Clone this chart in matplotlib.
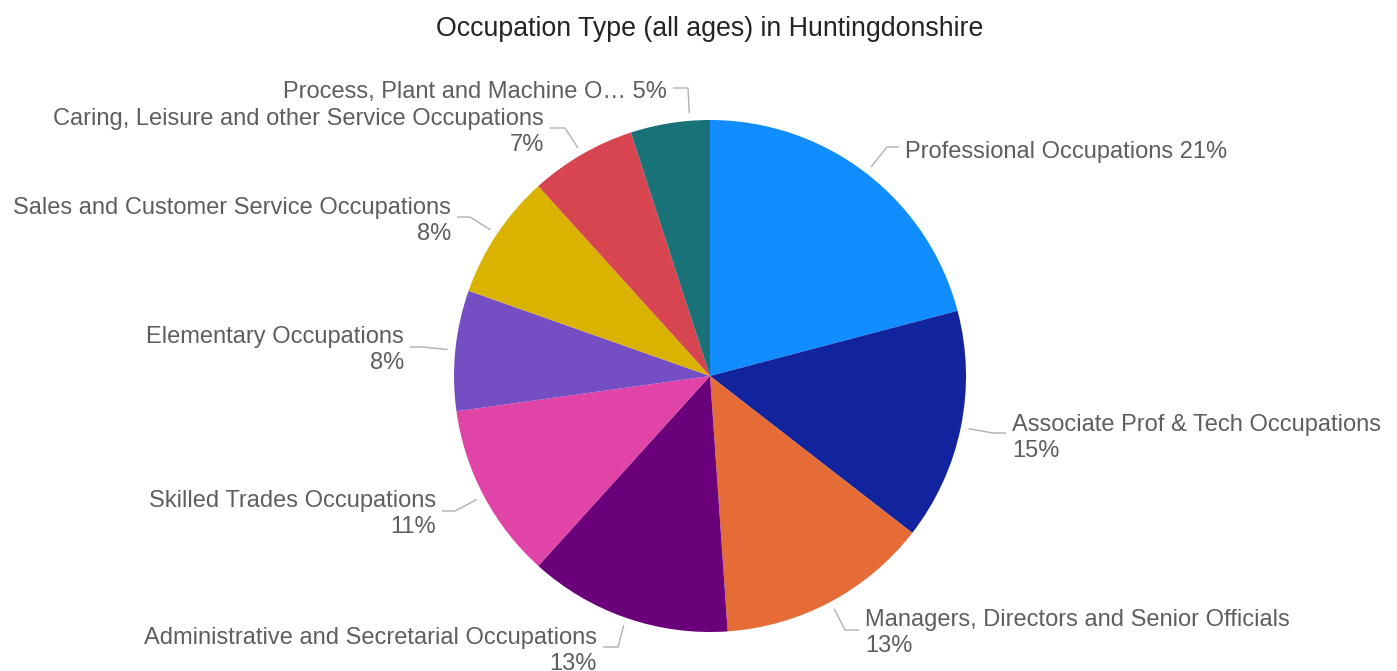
import matplotlib
matplotlib.use("Agg")
import matplotlib.pyplot as plt
import numpy as np

# data (percent of all ages), clockwise from 12 o'clock
categories = [
    "Professional Occupations",
    "Associate Prof & Tech Occupations",
    "Managers, Directors and Senior Officials",
    "Administrative and Secretarial Occupations",
    "Skilled Trades Occupations",
    "Elementary Occupations",
    "Sales and Customer Service Occupations",
    "Caring, Leisure and other Service Occupations",
    "Process, Plant and Machine O\u2026",
]
shares = [20.9, 14.6, 13.4, 12.8, 11.1, 7.6, 7.9, 6.7, 5.0]
colors = ["#118DFF", "#12239E", "#E66C37", "#6B007B", "#E044A7",
          "#744EC2", "#D9B300", "#D64550", "#197278"]

W, H = 1397, 671
CX, CY, R = 710, 376, 256   # pie centre / radius in screen pixels

# label layout in screen pixels: text x, first baseline, side, one line?, elbow
label_x = [905, 1012, 865, 597, 436, 404, 451, 544, 667]
label_y = [158, 431, 626, 644, 507, 343, 214, 125, 98]
label_side = ["r", "r", "r", "l", "l", "l", "l", "l", "l"]
one_line = [True, False, False, False, False, False, False, False, True]
elbows = [(887, 147), (993, 433), (845, 630), (618, 647), (455, 511),
          (422, 347), (470, 217), (565, 128), (688, 88)]
anchor_nudge = [0, 0, 0, 0, 0, 0, 0, 0, 4.5]   # degrees, small slice anchor pushed

plt.rcParams['font.family'] = ['Liberation Sans', 'DejaVu Sans']

fig = plt.figure(figsize=(W / 100, H / 100), dpi=100)
ax = fig.add_axes([0, 0, 1, 1])


def sy(py):
    # screen y (down) -> axes y (up)
    return H - py


wedges, _ = ax.pie(shares, colors=colors, startangle=90, counterclock=False,
                   radius=R, center=(CX, sy(CY)),
                   wedgeprops=dict(linewidth=0))
ax.set_xlim(0, W)
ax.set_ylim(0, H)
ax.set_aspect("equal")
ax.axis("off")

line_col = "#B3B0AD"
txt_col = "#605E5C"
fs = 17
pitch = 26

for i, w in enumerate(wedges):
    mid = np.deg2rad((w.theta1 + w.theta2) / 2 - anchor_nudge[i])
    x0 = CX + 1.03 * R * np.cos(mid)
    y0 = sy(CY) + 1.03 * R * np.sin(mid)
    ex, ey = elbows[i]
    if label_side[i] == "r":
        x_end = label_x[i] - 6
        ha = "left"
    else:
        x_end = label_x[i] + 6
        ha = "right"
    ax.plot([x0, ex, x_end], [y0, sy(ey), sy(ey)], color=line_col, lw=1,
            solid_capstyle="butt")

    pct = f"{round(shares[i]):.0f}%"
    if one_line[i]:
        ax.text(label_x[i], sy(label_y[i]), f"{categories[i]} {pct}",
                ha=ha, va="baseline", fontsize=fs, color=txt_col)
    else:
        ax.text(label_x[i], sy(label_y[i]), categories[i],
                ha=ha, va="baseline", fontsize=fs, color=txt_col)
        ax.text(label_x[i], sy(label_y[i] + pitch), pct,
                ha=ha, va="baseline", fontsize=fs, color=txt_col)

ax.text(710, sy(36), "Occupation Type (all ages) in Huntingdonshire",
        ha="center", va="baseline", fontsize=19.3, color="#252423")

fig.savefig("out.png", dpi=100, facecolor="white")
